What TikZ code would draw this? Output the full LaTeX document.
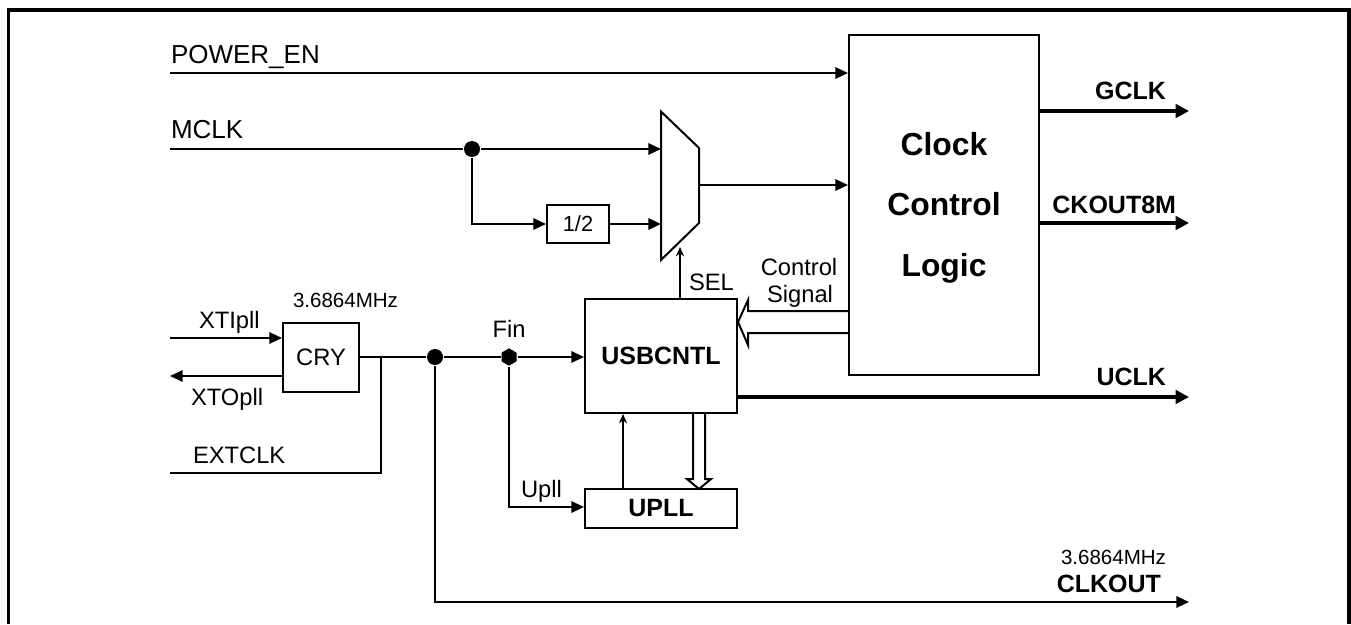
\documentclass[tikz,border=0pt]{standalone}
\usepackage{fontspec}
\setmainfont{Liberation Sans}
\usetikzlibrary{arrows.meta,shapes.geometric}
\begin{document}
\begin{tikzpicture}[x=0.75pt,y=-0.75pt,line width=1.5pt,
  arr/.style={-{Triangle[length=9.5pt,width=8.5pt]}},
  thk/.style={line width=2.6pt,-{Triangle[length=10pt,width=10pt]}},
  sarr/.style={-{Stealth[length=7pt,width=6pt]}},
  box/.style={draw,line width=1.5pt,inner sep=0pt},
  dot/.style={circle,fill,inner sep=0pt,minimum size=12pt},
  hexdot/.style={regular polygon,regular polygon sides=6,shape border rotate=30,fill,inner sep=0pt,minimum size=13pt},
  tn/.style={inner sep=0pt,font=\fontsize{19.5}{21}\selectfont},
  tm/.style={inner sep=0pt,font=\fontsize{17.8}{20}\selectfont},
  ts/.style={inner sep=0pt,font=\fontsize{15.4}{18}\selectfont},
  tb/.style={inner sep=0pt,font=\bfseries\fontsize{18.75}{20}\selectfont},
  tbig/.style={inner sep=0pt,font=\bfseries\fontsize{23.9}{28}\selectfont,anchor=base},
]
\useasboundingbox (0,0) rectangle (1351,624);
% frame
\draw[line width=2.4pt] (8.5,624) -- (8.5,10) -- (1349,10) -- (1349,624);

% blocks
\node[box,minimum width=142.5pt,minimum height=255pt] (ccl) at (944,205) {};
\node[tbig] at (944,156) {Clock};
\node[tbig] at (944,215) {Control};
\node[tbig] at (944,276) {Logic};

\node[box,minimum width=114pt,minimum height=85.5pt,tb] (usb) at (661,356) {USBCNTL};
\node[box,minimum width=114pt,minimum height=29.25pt,tb] (upll) at (661,508.5) {UPLL};
\node[box,minimum width=57pt,minimum height=51.75pt,tm] (cry) at (321,357.5) {CRY};
\node[box,minimum width=46.5pt,minimum height=28.5pt,font=\fontsize{16.4}{18}\selectfont] (half) at (578,224) {1/2};

% mux
\draw (661,111.5) -- (699,148) -- (699,223) -- (661,260) -- cycle;
\coordinate (m1) at (661,149);
\coordinate (m2) at (661,224);
\coordinate (mout) at (699,185);
\coordinate (msel) at (680,247);

% input lines
\coordinate (pwin) at (170,73);
\draw[arr] (pwin) -- (pwin -| ccl.west);
\node[tn,anchor=base west] at (170,64) {POWER\_EN};

\coordinate (mclkin) at (170,149);
\node[dot] (d1) at (472,149) {};
\draw (mclkin) -- (d1);
\node[tn,anchor=base west] at (170,138) {MCLK};
\draw[arr] (d1) -- (m1);
\draw[arr] (d1) |- (half.west);
\draw[arr] (half.east) -- (m2);
\draw[arr] (mout) -- (mout -| ccl.west);

% SEL
\coordinate (selx) at (680,0);
\draw[sarr] (usb.north -| selx) -- (msel);
\node[tm,anchor=base west] at (688,290) {SEL};

% control signal hollow arrow
\draw (ccl.west |- 0,311) -- (748,311) -- (748,300) -- (usb.east |- 0,322) -- (748,345) -- (748,333) -- (ccl.west |- 0,333);
\node[tm,anchor=base] at (799,275) {Control};
\node[tm,anchor=base] at (800,302) {Signal};

% outputs
\coordinate (gclk) at (1189,111);
\draw[thk] (gclk -| ccl.east) -- (gclk);
\node[tb,anchor=base east] at (1167,100) {GCLK};
\coordinate (ck8) at (1189,223);
\draw[thk] (ck8 -| ccl.east) -- (ck8);
\node[tb,anchor=base east] at (1177,213) {CKOUT8M};
\coordinate (uclk) at (1189,397);
\draw[thk] (uclk -| usb.east) -- (uclk);
\node[tb,anchor=base east] at (1167,385) {UCLK};

% crystal
\coordinate (xti) at (170,338);
\draw[arr] (xti) -- (xti -| cry.west);
\node[tm,anchor=base west] at (198,328) {XTIpll};
\coordinate (xto) at (170,376);
\draw[arr] (xto -| cry.west) -- (xto);
\node[tm,anchor=base west] at (190,405) {XTOpll};
\node[ts,anchor=base west] at (292,307) {3.6864MHz};

\coordinate (ext) at (170,473);
\coordinate (extj) at (381,357);
\draw (ext) -| (extj);
\node[tm,anchor=base west] at (192,463) {EXTCLK};

\node[dot] (d2) at (435,357) {};
\node[hexdot] (fin) at (509,357) {};
\draw (cry.east |- 0,357) -- (d2) -- (fin);
\draw[arr] (fin) -- (fin -| usb.west);
\node[tm,anchor=base] at (509,337) {Fin};

\draw[arr] (fin) |- (upll.west |- 0,507);
\node[tm,anchor=base west] at (520,497) {Upll};

% UPLL -> USBCNTL
\coordinate (ux) at (623,0);
\draw[sarr] (upll.north -| ux) -- (usb.south -| ux);
% USBCNTL -> UPLL hollow
\draw (693,413) -- (693,479) -- (687,479) -- (699,489) -- (711,479) -- (705,479) -- (705,413);

% CLKOUT
\coordinate (clk) at (1189,602);
\draw[arr] (d2) |- (clk);
\node[ts,anchor=base east] at (1167,564) {3.6864MHz};
\node[tb,anchor=base east] at (1162,592) {CLKOUT};
\end{tikzpicture}
\end{document}
